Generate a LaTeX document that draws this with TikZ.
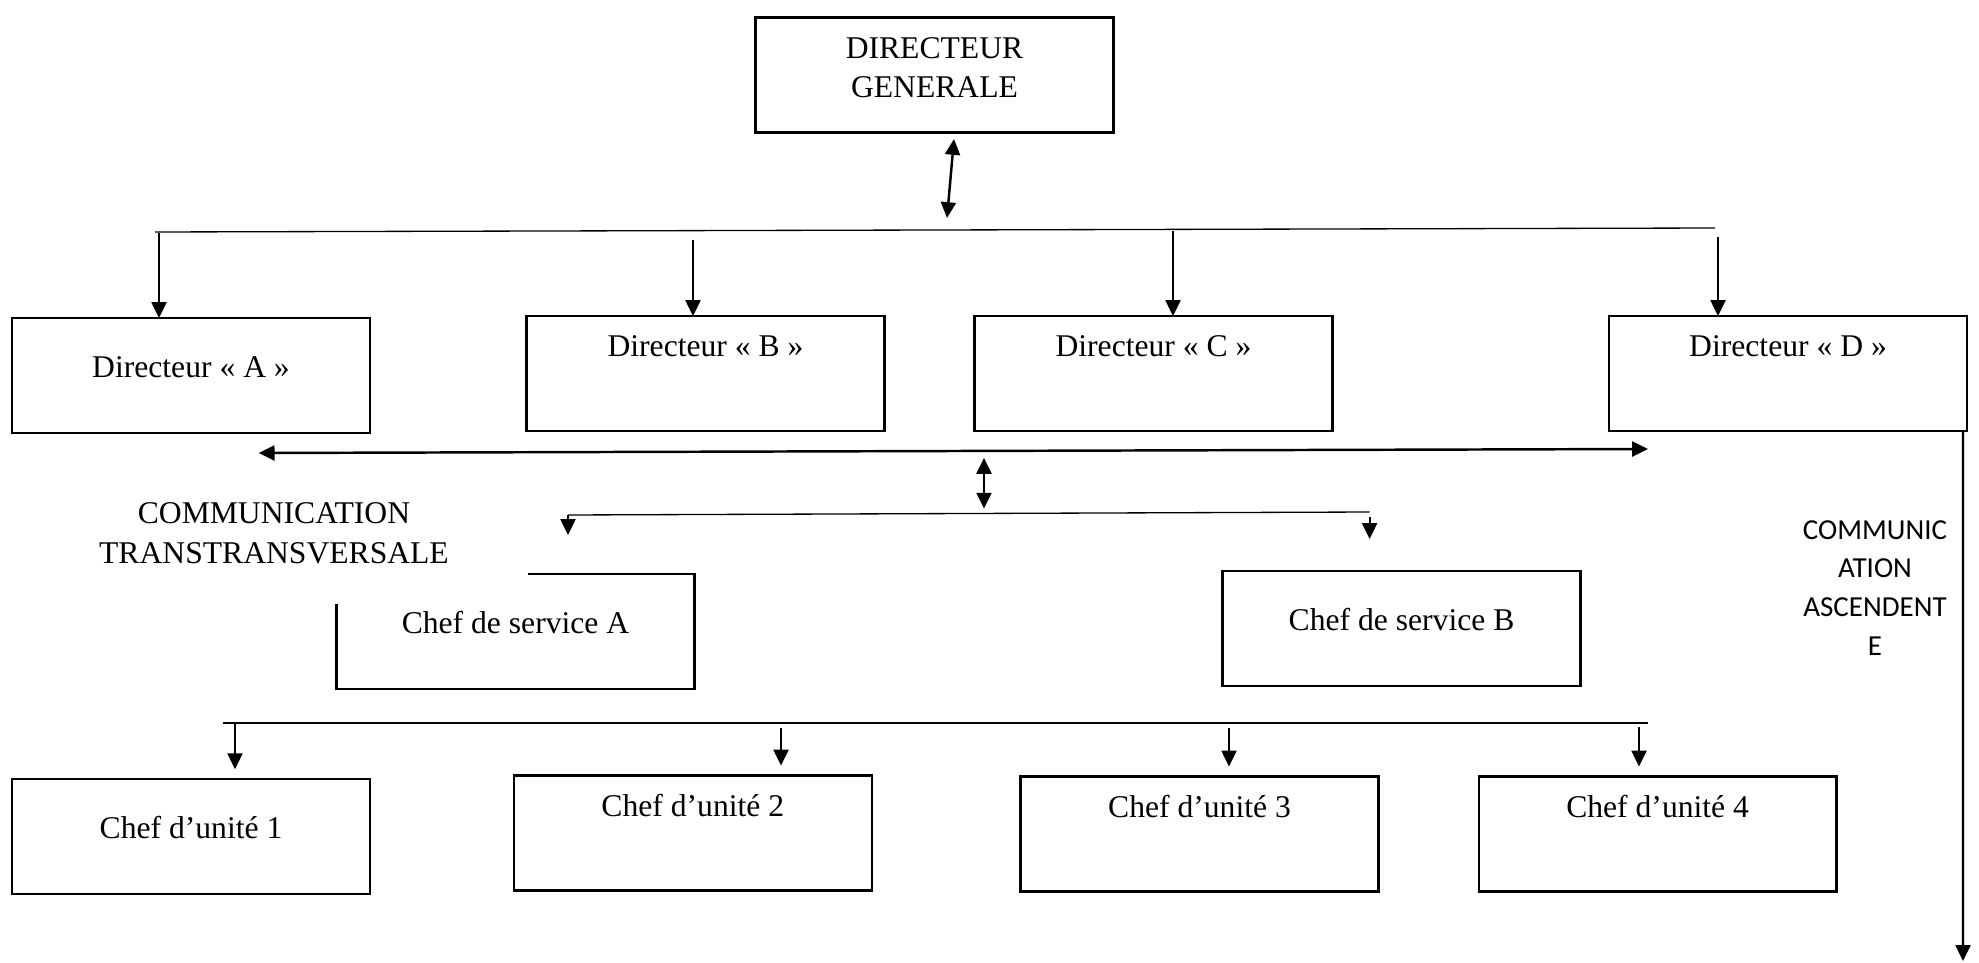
\documentclass[tikz,border=0pt]{standalone}
\usepackage{fontspec}
\setmainfont{Liberation Serif}
\newfontfamily\calibri{Carlito}
\usetikzlibrary{arrows.meta,positioning}
\tikzset{
  box/.style={draw,line width=1.3pt,inner sep=0pt,outer sep=0pt,minimum width=7.16cm,font=\fontsize{18}{22.7}\selectfont},
  topbox/.style={box,text height=0.81cm,text depth=1.49cm},
  midbox/.style={box,text height=1.18cm,text depth=1.12cm},
  bus/.style={line width=0.75pt},
  tip/.tip={Triangle[length=9pt,width=8.5pt]},
  drop/.style={line width=1.2pt,-tip},
  both/.style={line width=1.4pt,tip-tip}
}
\begin{document}
\begin{tikzpicture}[x=0.02cm,y=-0.02cm]
    \useasboundingbox (0,0) rectangle (1979,963);
    \node[topbox] (DG) at (934.5,75) {\begin{tabular}[t]{@{}c@{}}DIRECTEUR\\GENERALE\end{tabular}};
    \node[midbox] (A) at (191,375.5) {Directeur « A »};
    \node[topbox] (B) at (705.5,373.5) {Directeur « B »};
    \node[topbox] (C) at (1153.5,373.5) {Directeur « C »};
    \node[topbox] (D) at (1788,373.5) {Directeur « D »};
    \node[midbox,draw=none] (SA) at (515.5,631.6) {Chef de service A};
    \node[midbox] (SB) at (1401.5,628.5) {Chef de service B};
    \node[midbox] (U1) at (191,836.7) {Chef d’unité 1};
    \node[topbox] (U2) at (692.8,833) {Chef d’unité 2};
    \node[topbox] (U3) at (1199.5,834) {Chef d’unité 3};
    \node[topbox] (U4) at (1657.6,834) {Chef d’unité 4};
    \node[align=center,font=\fontsize{18}{22.7}\selectfont] (trans) at (274,533) {COMMUNICATION\\TRANSTRANSVERSALE};
    \node[align=center,font=\calibri\fontsize{16.5}{22.1}\selectfont] (asc) at (1875,588) {COMMUNIC\\ATION\\ASCENDENT\\E};

    \draw[line width=1.3pt] ([xshift=3.82cm]SA.north west) -- (SA.north east) -- (SA.south east) -- (SA.south west) -- ([yshift=-0.59cm]SA.north west);

    \coordinate (dg1) at (954,139);
    \coordinate (dg2) at (947,218);
    \coordinate (t1) at (155,232);
    \coordinate (t2) at (1715,228);
    \coordinate (h1) at (258.7,453);
    \coordinate (h2) at (1648,449);
    \coordinate (v1) at (984,458);
    \coordinate (v2) at (984,508.6);
    \coordinate (s1) at (568,515);
    \coordinate (s2) at (1369.6,512);
    \coordinate (b1) at (223,723);
    \coordinate (b2) at (1648,723);
    \coordinate (asc1) at (1963,961);

    \draw[both] (dg1) -- (dg2);
    \draw[bus] (t1) -- (t2);
    \foreach \n/\x/\y in {A/159/233,B/693/240,C/1173/231,D/1718/237}
        \draw[drop] (\x,\y) -- (\x,0 |- \n.north);
    \draw[both] (h1) -- (h2);
    \draw[both] (v1) -- (v2);
    \draw[bus] (s1) -- (s2);
    \draw[drop] (s1) -- ++(0,20);
    \draw[drop] ([yshift=-0.1cm]s2) -- ++(0,22);
    \draw[bus] (b1) -- (b2);
    \foreach \n/\x/\y in {U1/235/723,U2/781/728,U3/1229/728,U4/1639/727}
        \draw[drop] (\x,\y) -- ([yshift=0.2cm]\x,0 |- \n.north);
    \draw[drop] ([xshift=-0.08cm]D.south east) -- (asc1);
\end{tikzpicture}
\end{document}
